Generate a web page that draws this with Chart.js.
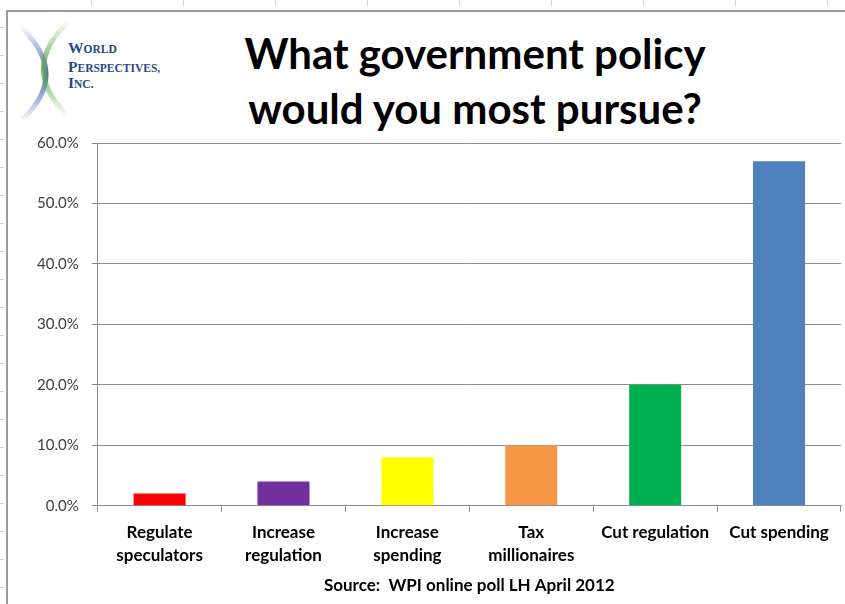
<!DOCTYPE html>
<html>
<head>
<meta charset="utf-8">
<script src="https://cdn.jsdelivr.net/npm/chart.js@4.4.0/dist/chart.umd.min.js"></script>
<style>
  html, body { margin: 0; padding: 0; background: #fff; }
  body { width: 845px; height: 604px; position: relative; overflow: hidden; font-family: Lato, "Open Sans", sans-serif; }
  .sheet-left { position: absolute; left: 0; top: 0; width: 4px; height: 604px;
    background: repeating-linear-gradient(to bottom, transparent 0 27px, #c9d3e3 27px 28px); }
  .sheet-top { position: absolute; left: 0; top: 0; width: 845px; height: 6px;
    background: repeating-linear-gradient(to right, transparent 0 91px, #c9d3e3 91px 92px); }
  .frame { position: absolute; left: 6px; top: 10px; right: -2px; bottom: -2px;
    border-left: 2px solid #9a9a9a; border-top: 2px solid #9a9a9a; }
  #wrap { position: absolute; left: 0; top: 0; width: 845px; height: 604px; }
  .title { position: absolute; left: 140px; width: 670px; text-align: center; top: 26px;
    font-weight: 700; font-size: 42px; line-height: 55px; color: #000; }
  .logo { position: absolute; left: 18px; top: 20px; }
</style>
</head>
<body>
<div class="sheet-left"></div>
<div class="sheet-top"></div>
<div class="frame"></div>
<svg class="logo" width="160" height="104" viewBox="0 0 160 104">
  <defs>
    <linearGradient id="gb" x1="0" y1="0" x2="0" y2="1">
      <stop offset="0" stop-color="#3a5bb0" stop-opacity="0.05"/>
      <stop offset="0.5" stop-color="#3a5bb0" stop-opacity="0.9"/>
      <stop offset="1" stop-color="#3a5bb0" stop-opacity="0.05"/>
    </linearGradient>
    <linearGradient id="gg" x1="0" y1="0" x2="0" y2="1">
      <stop offset="0" stop-color="#5aaa4a" stop-opacity="0.05"/>
      <stop offset="0.5" stop-color="#5aaa4a" stop-opacity="0.9"/>
      <stop offset="1" stop-color="#5aaa4a" stop-opacity="0.05"/>
    </linearGradient>
  </defs>
  <path d="M4 8 Q52 55 4 100" fill="none" stroke="url(#gb)" stroke-width="5"/>
  <path d="M50 2 Q2 48 48 94" fill="none" stroke="url(#gg)" stroke-width="5"/>
  <text x="50" y="33" font-family="Liberation Serif, serif" font-weight="700" font-size="15.5" fill="#1f4a8a">W<tspan font-size="11.5">ORLD</tspan></text>
  <text x="50" y="52" font-family="Liberation Serif, serif" font-weight="700" font-size="15.5" fill="#1f4a8a">P<tspan font-size="11.5">ERSPECTIVES,</tspan></text>
  <text x="50" y="68" font-family="Liberation Serif, serif" font-weight="700" font-size="15.5" fill="#1f4a8a">I<tspan font-size="11.5">NC.</tspan></text>
</svg>
<div class="title">What government policy<br>would you most pursue?</div>
<div id="wrap"><canvas id="chart"></canvas></div>
<script>
const categories = [
  ["Regulate", "speculators"],
  ["Increase", "regulation"],
  ["Increase", "spending"],
  ["Tax", "millionaires"],
  "Cut regulation",
  "Cut spending"
];
const shares = [0.02, 0.04, 0.08, 0.10, 0.20, 0.57];
const barColors = ["#ff0000", "#7030a0", "#ffff00", "#f79646", "#00b050", "#4f81bd"];
const yTicks = [0, 0.1, 0.2, 0.3, 0.4, 0.5, 0.6];
const sourceNote = "Source:  WPI online poll LH April 2012";

const gridGray = "#8e8e8e";

new Chart(document.getElementById("chart"), {
  type: "bar",
  data: {
    labels: categories,
    datasets: [
      {
        data: shares,
        backgroundColor: barColors,
        borderWidth: 0,
        barPercentage: 0.42,
        categoryPercentage: 1,
      },
    ],
  },
  options: {
    responsive: true,
    maintainAspectRatio: false,
    animation: false,
    layout: {
      padding: { left: 24, right: 4, top: 143, bottom: 8 },
    },
    plugins: {
      legend: { display: false },
      tooltip: { enabled: false },
    },
    scales: {
      y: {
        min: 0,
        max: 0.6,
        afterBuildTicks: (axis) => {
          axis.ticks = yTicks.map((v) => ({ value: v }));
        },
        grid: { color: gridGray, tickLength: 6, lineWidth: 1 },
        border: { color: gridGray },
        ticks: {
          color: "#404040",
          padding: 13,
          font: { size: 15, family: "Lato" },
          callback: (v) => (v * 100).toFixed(1) + "%",
        },
      },
      x: {
        grid: { drawOnChartArea: false, offset: true, tickLength: 6, color: gridGray },
        border: { color: gridGray },
        ticks: {
          color: "#000",
          padding: 9,
          maxRotation: 0,
          font: { size: 17, weight: "bold", family: "Lato", lineHeight: 1.35 },
        },
        title: {
          display: true,
          text: sourceNote,
          color: "#000",
          padding: { top: 0, bottom: 0 },
          font: { size: 17, weight: "bold", family: "Lato" },
        },
      },
    },
  },
});
</script>
</body>
</html>
